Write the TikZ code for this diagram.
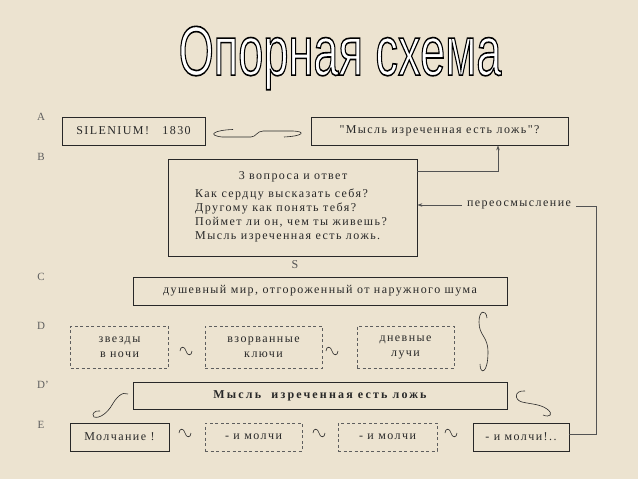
\documentclass[tikz,border=0pt]{standalone}
\usepackage{fontspec}
\setmainfont{Liberation Serif}
\newfontfamily\boxfont{Liberation Serif}[LetterSpace=12]
\newfontfamily\boldboxfont{Liberation Serif}[LetterSpace=18]
\newfontfamily\titlefont{Liberation Sans}
\usetikzlibrary{arrows.meta}
\definecolor{paper}{RGB}{236,227,208}
\definecolor{ink}{RGB}{40,40,40}
\definecolor{lblc}{RGB}{95,95,95}
\begin{document}
\begin{tikzpicture}[x=1pt,y=-1pt,
  box/.style={draw=ink, line width=0.8pt, minimum height=28, inner sep=0pt,
    font=\boxfont\fontsize{12}{15}\selectfont, text=ink},
  dbox/.style={box, draw=ink!75, dash pattern=on 3pt off 2.5pt, minimum height=42, align=center},
  rowlbl/.style={font=\fontsize{11}{11}\selectfont, text=lblc},
  conn/.style={draw=ink!80, line width=0.7pt},
  curl/.style={draw=ink, line width=0.6pt},
  tip/.style={-{Stealth[length=5pt,width=3.5pt]}},
  sws/.pic={\draw[curl] (-6,0) .. controls (-6,-5) and (-1,-5) .. (0,0) .. controls (1,5) and (6,5) .. (6,0);}
]
\fill[paper] (0,0) rectangle (638,479);
\useasboundingbox (0,0) rectangle (638,479);

% row labels
\node[rowlbl] (la) at (41,117) {A};
\node[rowlbl] (lb) at (41,157) {B};
\node[rowlbl] (lc) at (41,277) {C};
\node[rowlbl] (ld) at (41,326) {D};
\node[rowlbl] (ldp) at (43,385) {D'};
\node[rowlbl] (le) at (41,425) {E};

% row A
\node[box, minimum width=143] (a1) at (133.5,131) {SILENIUM!\ \ \ 1830};
\node[box, minimum width=257] (a2) at (439.5,131) {"Мысль изреченная есть ложь"?};
\draw[curl] (233,129.5) .. controls (215,130) and (206,135) .. (222,137) -- (251,137)
  .. controls (256,137) and (257,131) .. (263,131) -- (293,131)
  .. controls (306,131.5) and (304,136) .. (284,137);

% row B
\node[box, minimum width=249, minimum height=97] (b) at (292.5,207.5) {};
\node[font=\boxfont\fontsize{12}{14}\selectfont, text=ink] (bt) at (293,177) {3 вопроса и ответ};
\node[anchor=north west, align=left, inner sep=0pt, text=ink,
  font=\boxfont\fontsize{12}{14}\selectfont] (bl) at (195,189)
  {Как сердцу высказать себя?\\Другому как понять тебя?\\Поймет ли он, чем ты живешь?\\Мысль изреченная есть ложь.};
\node[font=\fontsize{12}{12}\selectfont, text=ink!80] (s1) at (295,265) {S};

\coordinate (k1) at (498,171);
\draw[conn, tip] (b.east |- k1) -- (k1) -- (k1 |- a2.south);

% row C
\node[box, minimum width=374] (c) at (320,291) {душевный мир, отгороженный от наружного шума};

% row D
\node[dbox, minimum width=98] (d1) at (119.5,347) {звезды\\в ночи};
\node[dbox, minimum width=117] (d2) at (263.5,347) {взорванные\\ключи};
\node[dbox, minimum width=97] (d3) at (405.5,347) {дневные\\лучи};
\pic at (186,351) {sws};
\pic at (332,351) {sws};
\draw[curl] (487,318) .. controls (486,309) and (479,310) .. (479,322)
  .. controls (479,336) and (488,336) .. (488,352)
  .. controls (488,374) and (480,375) .. (480,364);

% row D'
\node[box, minimum width=374, minimum height=27,
  font=\boldboxfont\bfseries\fontsize{12}{15}\selectfont] (dp) at (320,395.5) {Мысль\ \ изреченная есть ложь};

% row E
\node[box, minimum width=99] (e1) at (119.5,437) {Молчание !};
\node[box, draw=ink!75, dash pattern=on 3pt off 2.5pt, minimum width=97] (e2) at (253.5,437) {- и молчи};
\node[box, draw=ink!75, dash pattern=on 3pt off 2.5pt, minimum width=99] (e3) at (387.5,437) {- и молчи};
\node[box, minimum width=96] (e4) at (521,437) {- и молчи!..};
\pic at (185,433) {sws};
\pic at (319,433) {sws};
\pic at (451,433) {sws};

% curls between D' and E
\draw[curl] (128,394) .. controls (122,391) and (116,398) .. (112,405)
  .. controls (108,412) and (100,419) .. (94,417) .. controls (91,414) and (95,410) .. (100,411);
\draw[curl] (525,391) .. controls (514,390) and (514,400) .. (522,402)
  .. controls (530,404) and (540,404) .. (547,409) .. controls (554,414) and (550,418) .. (543,415);

% feedback loop
\node[font=\boxfont\fontsize{12}{14}\selectfont, text=ink, inner xsep=5pt] (pl) at (519,205) {переосмысление};
\coordinate (k2) at (596,206);
\draw[conn] ([yshift=3pt]e4.east) -| (k2) -- (pl.east |- k2);
\draw[conn, tip] (pl.west) -- (b.east |- pl.west);

% title
\node[inner sep=0pt] (title) at (340,58) {\scalebox{0.645}[1]{\titlefont\fontsize{70}{70}\selectfont\color{white}\special{pdf:literal direct 0 G 2 Tr 1.6 w}Опорная схема\special{pdf:literal direct 0 Tr}}};
\end{tikzpicture}
\end{document}
